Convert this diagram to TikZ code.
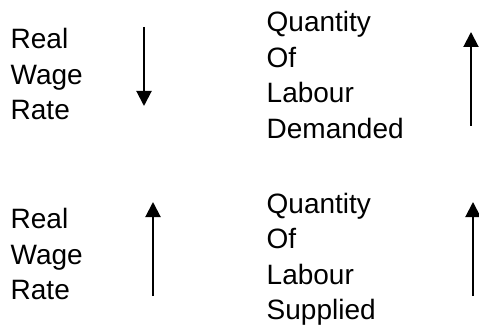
\documentclass[tikz,border=0pt]{standalone}
\usepackage{fontspec}
\setmainfont{Liberation Sans}
\usetikzlibrary{arrows.meta}
\begin{document}
\begin{tikzpicture}[x=1pt,y=-1pt,
  lbl/.style={anchor=base west,inner sep=0pt,font=\fontsize{28}{35.5}\selectfont},
  arr/.style={line width=2pt,-{Triangle[length=15pt,width=15pt]}}]
\useasboundingbox (0,0) rectangle (479,326);
\node[lbl] (t1) at (10.5,49) {\begin{tabular}[t]{@{}l@{}}Real\\Wage\\Rate\end{tabular}};
\node[lbl] (t2) at (266.5,32) {\begin{tabular}[t]{@{}l@{}}Quantity\\Of\\Labour\\Demanded\end{tabular}};
\node[lbl] (t3) at (10.5,228.5) {\begin{tabular}[t]{@{}l@{}}Real\\Wage\\Rate\end{tabular}};
\node[lbl] (t4) at (266.5,213) {\begin{tabular}[t]{@{}l@{}}Quantity\\Of\\Labour\\Supplied\end{tabular}};
\coordinate (a1s) at (144,27);
\coordinate (a1e) at (144,106);
\coordinate (a2s) at (471,126);
\coordinate (a2e) at (471,32);
\coordinate (a3s) at (153,296);
\coordinate (a3e) at (153,202);
\coordinate (a4s) at (473,296);
\coordinate (a4e) at (473,202);
\draw[arr] (a1s) -- (a1e);
\draw[arr] (a2s) -- (a2e);
\draw[arr] (a3s) -- (a3e);
\draw[arr] (a4s) -- (a4e);
\end{tikzpicture}
\end{document}
